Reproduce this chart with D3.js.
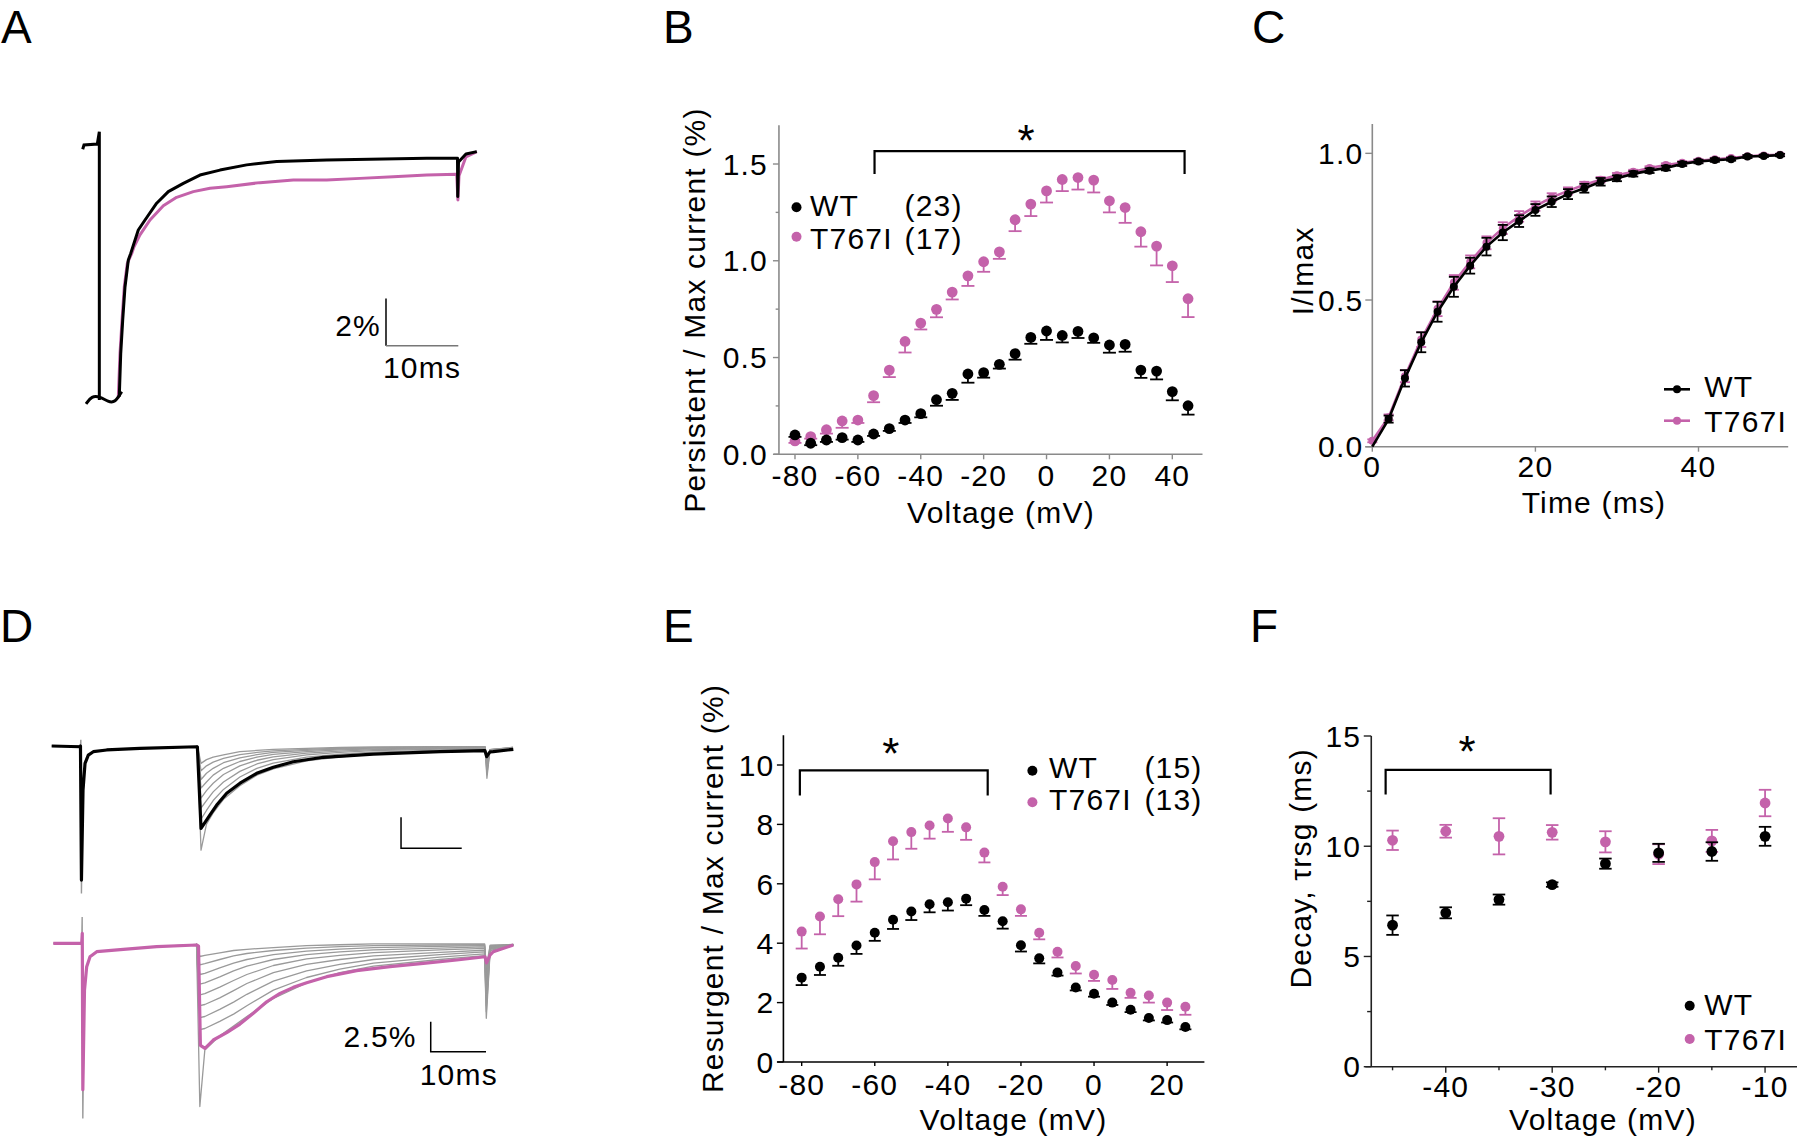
<!DOCTYPE html>
<html><head><meta charset="utf-8">
<script src="https://cdn.jsdelivr.net/npm/d3@7"></script>
<style>
body{margin:0;background:#fff}
text{font-family:"Liberation Sans",Arial,Helvetica,sans-serif;}
</style>
</head><body>
<svg id="fig" width="1798" height="1140"></svg>
<script>
// ---------------- DATA ----------------
// Panel B: persistent current
const vB = [-80,-75,-70,-65,-60,-55,-50,-45,-40,-35,-30,-25,-20,-15,-10,-5,0,5,10,15,20,25,30,35,40,45];
const wtB = [0.10,0.057,0.074,0.086,0.074,0.105,0.133,0.177,0.21,0.282,0.315,0.415,0.422,0.465,0.52,0.604,0.637,0.614,0.635,0.602,0.565,0.568,0.435,0.43,0.324,0.251];
const wtBerr = [0.01,0.01,0.01,0.01,0.01,0.01,0.012,0.015,0.019,0.031,0.034,0.045,0.026,0.022,0.031,0.033,0.046,0.036,0.034,0.026,0.040,0.038,0.040,0.043,0.045,0.046];
const muB = [0.069,0.091,0.127,0.172,0.177,0.303,0.435,0.583,0.678,0.749,0.838,0.922,0.995,1.046,1.212,1.293,1.361,1.42,1.43,1.417,1.31,1.275,1.15,1.076,0.974,0.804];
const muBerr = [0.01,0.01,0.02,0.035,0.015,0.034,0.036,0.057,0.033,0.041,0.038,0.052,0.052,0.036,0.059,0.062,0.060,0.060,0.062,0.064,0.060,0.079,0.077,0.10,0.084,0.095];
const bTicksX = [-80,-60,-40,-20,0,20,40];
const bTicksY = [0,0.5,1.0,1.5];
const bMinorY = [0.25,0.75,1.25];
const bLegend = [["WT","(23)"],["T767I","(17)"]];
const bBracket = [-54.7, 43.9, 1.567, 1.448];

// Panel C: recovery
const tC = [0,2,4,6,8,10,12,14,16,18,20,22,24,26,28,30,32,34,36,38,40,42,44,46,48,50];
const wtC = [0.01,0.094,0.233,0.356,0.46,0.545,0.617,0.682,0.73,0.769,0.807,0.835,0.861,0.881,0.903,0.915,0.93,0.941,0.95,0.964,0.972,0.977,0.98,0.989,0.991,0.994];
const wtCerr = [0.005,0.012,0.028,0.034,0.034,0.034,0.027,0.030,0.026,0.020,0.020,0.018,0.017,0.015,0.013,0.010,0.009,0.008,0.008,0.007,0.006,0.006,0.005,0.005,0.004,0.004];
const muC = [0.02,0.10,0.24,0.365,0.47,0.56,0.63,0.695,0.745,0.785,0.82,0.85,0.872,0.893,0.91,0.925,0.937,0.95,0.96,0.968,0.975,0.98,0.984,0.99,0.993,0.995];
const muCerr = [0.005,0.01,0.02,0.025,0.025,0.025,0.022,0.022,0.02,0.018,0.016,0.014,0.012,0.01,0.009,0.008,0.007,0.006,0.006,0.005,0.005,0.005,0.004,0.004,0.004,0.004];
const cTicksX = [0,20,40];
const cTicksY = [0,0.5,1.0];
const cLegend = ["WT","T767I"];

// Panel E: resurgent current
const vE = [-80,-75,-70,-65,-60,-55,-50,-45,-40,-35,-30,-25,-20,-15,-10,-5,0,5,10,15,20,25];
const wtE = [2.84,3.21,3.51,3.92,4.35,4.79,5.07,5.31,5.38,5.5,5.12,4.74,3.93,3.49,3.01,2.51,2.30,2.0,1.76,1.48,1.41,1.18];
const wtEerr = [0.25,0.28,0.27,0.28,0.27,0.31,0.29,0.27,0.28,0.22,0.2,0.25,0.21,0.17,0.1,0.1,0.1,0.08,0.08,0.08,0.08,0.08];
const muE = [4.39,4.9,5.48,5.98,6.73,7.43,7.74,7.96,8.2,7.9,7.05,5.9,5.14,4.35,3.71,3.23,2.94,2.76,2.33,2.24,2.0,1.86];
const muEerr = [0.57,0.6,0.57,0.58,0.58,0.61,0.56,0.44,0.45,0.42,0.33,0.28,0.22,0.22,0.19,0.25,0.21,0.3,0.17,0.24,0.25,0.27];
const eTicksX = [-80,-60,-40,-20,0,20];
const eTicksY = [0,2,4,6,8,10];
const eLegend = [["WT","(15)"],["T767I","(13)"]];
const eBracket = [-80.5, -29.1, 9.82, 8.97];

// Panel F: decay tau
const vF = [-45,-40,-35,-30,-25,-20,-15,-10];
const wtF = [6.42,6.98,7.58,8.26,9.21,9.70,9.76,10.45];
const wtFerr = [0.44,0.25,0.23,0.1,0.23,0.41,0.42,0.43];
const muF = [10.27,10.68,10.45,10.63,10.2,9.64,10.24,11.96];
const muFerr = [0.44,0.29,0.82,0.33,0.48,0.45,0.5,0.6];
const fTicksX = [-40,-30,-20,-10];
const fMinorX = [-45,-35,-25,-15];
const fTicksY = [0,5,10,15];
const fMinorY = [2.5,7.5,12.5];
const fLegend = ["WT","T767I"];
const fBracket = [-45.65, -30.15, 13.46, 12.35];

// Panel A traces [time ms, current %]
const aBlackPre = [[0,-0.18],[0.18,0],[2.02,0.04],[2.30,0.56],[2.30,-10.77]];
const aBreak = [[0.46,-10.94],[1.24,-10.6],[2.39,-10.63],[3.54,-10.85],[4.47,-10.89],[5.39,-10.42]];
const aBlack = [[5.06,-10.63],[5.26,-8.80],[5.53,-7.41],[5.85,-6.00],[6.31,-4.86],[6.64,-4.58],[7.69,-3.59],[8.62,-3.17],[10.23,-2.46],[11.84,-1.97],[13.92,-1.62],[16.22,-1.27],[18.99,-1.06],[22.68,-0.84],[26.83,-0.70],[33.75,-0.63],[47.58,-0.56],[51.73,-0.56],[51.84,-0.56],[51.87,-2.18],[51.98,-0.72],[53.01,-0.38],[54.51,-0.28]];
const aPink = [[4.92,-10.70],[5.16,-8.80],[5.44,-7.41],[5.75,-6.00],[6.17,-5.00],[6.78,-4.58],[7.09,-4.30],[7.92,-3.80],[9.31,-3.17],[11.15,-2.57],[12.99,-2.21],[15.30,-1.97],[17.61,-1.83],[19.92,-1.76],[24.52,-1.59],[29.13,-1.48],[33.75,-1.48],[38.35,-1.41],[42.96,-1.34],[47.58,-1.27],[51.73,-1.24],[51.90,-2.32],[52.05,-1.3],[53.01,-0.5],[54.51,-0.28]];
const aBar = [41.95, -6.48, -8.48, 51.95];

// Panel D top (WT) traces
const dtBlack = [[0,0],[4.66,-0.06],[4.74,0],[4.9,-10.81],[5.16,-3.55],[5.49,-1.40],[6.03,-0.73],[6.85,-0.46],[9.06,-0.32],[14.55,-0.19],[23.89,-0.06],[24.0,-0.08],[24.6,-6.64],[26.08,-5.56],[27.18,-4.76],[28.83,-3.81],[31.02,-3.0],[33.77,-2.2],[36.51,-1.72],[39.8,-1.27],[44.75,-0.91],[52.98,-0.65],[63.97,-0.46],[71.38,-0.38],[71.66,-0.86],[72.2,-0.48],[72.75,-0.46],[76.05,-0.27]];
const dtGrayPre = [[0,0],[4.74,0],[4.8,0.5],[4.9,-11.9],[5.1,-4],[5.5,-1.4],[6.0,-0.7],[7,-0.45],[9,-0.3],[14.5,-0.18],[23.9,-0.06]];
const dtGrayT = [24.0,24.6,25.5,26.6,28.3,31.0,33.8,36.5,42.0,47.5,53.0,64.0,71.4,71.7,72.2,76.0];
const dtGray = [
 [0,-1.4,-1.1,-0.9,-0.72,-0.46,-0.36,-0.27,-0.19,-0.12,-0.08,-0.05,-0.05,-2.6,-0.3,-0.1],
 [0,-2.0,-1.6,-1.3,-1.0,-0.7,-0.52,-0.4,-0.27,-0.18,-0.13,-0.08,-0.07,-2.3,-0.3,-0.12],
 [0,-2.7,-2.2,-1.8,-1.35,-0.95,-0.7,-0.52,-0.35,-0.24,-0.17,-0.11,-0.09,-2.0,-0.3,-0.13],
 [0,-3.4,-2.9,-2.35,-1.8,-1.25,-0.9,-0.68,-0.45,-0.32,-0.23,-0.15,-0.12,-1.8,-0.32,-0.15],
 [0,-4.2,-3.6,-3.0,-2.3,-1.6,-1.15,-0.88,-0.58,-0.42,-0.3,-0.2,-0.16,-1.6,-0.35,-0.17],
 [0,-5.0,-4.4,-3.7,-2.9,-2.05,-1.45,-1.1,-0.72,-0.52,-0.38,-0.26,-0.2,-1.4,-0.38,-0.2],
 [0,-5.9,-5.2,-4.4,-3.5,-2.5,-1.8,-1.38,-0.9,-0.65,-0.5,-0.33,-0.26,-1.2,-0.4,-0.22],
 [0,-8.4,-6.3,-5.4,-4.3,-3.2,-2.35,-1.85,-1.2,-0.88,-0.68,-0.5,-0.4,-1.0,-0.45,-0.25]
];
const dtBar = [57.55, -5.75, -8.25, 67.55];

// Panel D bottom (T767I) traces
const dbPink = [[0,0],[5.14,0],[5.24,0.83],[5.34,-12.2],[5.64,-3.9],[6.04,-1.95],[6.64,-1.12],[7.85,-0.7],[12.66,-0.5],[18.7,-0.28],[25.93,-0.14],[26.26,-0.23],[26.6,-8.5],[27.43,-8.75],[28.93,-8.06],[31.36,-7.45],[33.76,-6.73],[36.17,-5.83],[38.59,-4.87],[41.0,-4.17],[43.4,-3.67],[45.82,-3.28],[49.44,-2.78],[54.86,-2.28],[60.89,-1.95],[66.91,-1.67],[72.95,-1.39],[78.07,-1.12],[78.34,-1.64],[78.97,-0.98],[79.57,-0.7],[83.18,-0.14]];
const dbGrayPre = [[0,0],[5.14,0],[5.22,2.2],[5.34,-14.6],[5.6,-4],[6.0,-2],[6.6,-1.1],[7.9,-0.7],[12.7,-0.5],[18.7,-0.28],[25.9,-0.1]];
const dbGrayT = [25.9,26.5,27.4,30.1,32.6,35.0,39.8,45.8,51.8,57.9,69.9,78.0,78.3,79.0,83.2];
const dbGray = [
 [-0.1,-1.1,-1.0,-0.8,-0.6,-0.5,-0.36,-0.2,-0.12,-0.05,-0.05,-0.05,-2.0,-0.15,-0.1],
 [-0.1,-1.8,-1.7,-1.35,-1.05,-0.85,-0.6,-0.4,-0.28,-0.2,-0.14,-0.12,-2.5,-0.2,-0.1],
 [-0.1,-2.6,-2.5,-2.05,-1.65,-1.35,-0.95,-0.65,-0.48,-0.36,-0.26,-0.2,-3.0,-0.25,-0.12],
 [-0.1,-3.4,-3.3,-2.8,-2.3,-1.9,-1.35,-0.95,-0.72,-0.55,-0.4,-0.3,-3.5,-0.3,-0.12],
 [-0.1,-4.3,-4.2,-3.65,-3.1,-2.6,-1.85,-1.3,-1.0,-0.78,-0.55,-0.42,-4.0,-0.35,-0.13],
 [-0.1,-5.2,-5.1,-4.55,-3.95,-3.35,-2.45,-1.75,-1.35,-1.05,-0.75,-0.58,-4.6,-0.4,-0.14],
 [-0.1,-6.2,-6.1,-5.5,-4.9,-4.25,-3.15,-2.3,-1.75,-1.35,-0.95,-0.72,-5.2,-0.45,-0.15],
 [-0.1,-7.2,-7.1,-6.5,-5.9,-5.2,-3.9,-2.85,-2.15,-1.65,-1.15,-0.88,-5.7,-0.5,-0.15],
 [-0.1,-13.6,-8.9,-7.7,-6.9,-6.1,-4.6,-3.3,-2.45,-1.9,-1.35,-1.02,-6.25,-0.6,-0.15]
];
const dbBar = [68.25, -6.53, -9.03, 78.25];

// ---------------- DRAWING ----------------
const PINK = "#c462aa";
const GRAY_AX = "#8a8a8a";
const FS = 30, LS = "1.2px";
const svg = d3.select("#fig");

function T(g, x, y, s, o = {}) {
  return g.append("text").attr("x", x).attr("y", y).text(s)
    .attr("font-size", o.fs || FS).attr("text-anchor", o.anchor || "start")
    .attr("fill", o.fill || "#000").style("letter-spacing", o.ls || LS)
    .attr("transform", o.rot ? `rotate(-90,${x},${y})` : null);
}

function axes(g, x, y, o) {
  const y0 = y(0), yA = o.yAxisX;
  const c = o.color;
  g.append("line").attr("x1", x.range()[0]).attr("x2", x.range()[1]).attr("y1", y0).attr("y2", y0)
    .attr("stroke", c).attr("stroke-width", 1.6);
  g.append("line").attr("x1", yA).attr("x2", yA).attr("y1", y0).attr("y2", y.range()[1])
    .attr("stroke", c).attr("stroke-width", 1.6);
  o.xTicks.forEach(v => {
    g.append("line").attr("x1", x(v)).attr("x2", x(v)).attr("y1", y0).attr("y2", y0 + o.xTL).attr("stroke", c).attr("stroke-width", 1.4);
    T(g, x(v), y0 + o.xLab, o.xf(v), {anchor: "middle"});
  });
  (o.xMinor || []).forEach(v => {
    g.append("line").attr("x1", x(v)).attr("x2", x(v)).attr("y1", y0).attr("y2", y0 + o.xTL * 0.6).attr("stroke", c).attr("stroke-width", 1.4);
  });
  o.yTicks.forEach(v => {
    g.append("line").attr("x1", yA - o.yTL).attr("x2", yA).attr("y1", y(v)).attr("y2", y(v)).attr("stroke", c).attr("stroke-width", 1.4);
    T(g, yA - o.yLab, y(v) + 10.7, o.yf(v), {anchor: "end"});
  });
  (o.yMinor || []).forEach(v => {
    g.append("line").attr("x1", yA - o.yTL * 0.55).attr("x2", yA).attr("y1", y(v)).attr("y2", y(v)).attr("stroke", c).attr("stroke-width", 1.4);
  });
}

function errDown(g, x, y, xs, vals, errs, col, w) {
  xs.forEach((v, i) => {
    const yb = y(vals[i] - errs[i]);
    g.append("line").attr("x1", x(v)).attr("x2", x(v)).attr("y1", y(vals[i])).attr("y2", yb).attr("stroke", col).attr("stroke-width", 1.8);
    g.append("line").attr("x1", x(v) - w/2).attr("x2", x(v) + w/2).attr("y1", yb).attr("y2", yb).attr("stroke", col).attr("stroke-width", 1.8);
  });
}
function errBoth(g, x, y, xs, vals, errs, col, w) {
  xs.forEach((v, i) => {
    const ya = y(vals[i] + errs[i]), yb = y(vals[i] - errs[i]);
    g.append("line").attr("x1", x(v)).attr("x2", x(v)).attr("y1", ya).attr("y2", yb).attr("stroke", col).attr("stroke-width", 1.8);
    [ya, yb].forEach(yy => g.append("line").attr("x1", x(v) - w/2).attr("x2", x(v) + w/2).attr("y1", yy).attr("y2", yy).attr("stroke", col).attr("stroke-width", 1.8));
  });
}
function dots(g, x, y, xs, vals, col, r) {
  g.selectAll(null).data(xs).enter().append("circle")
    .attr("cx", d => x(d)).attr("cy", (d, i) => y(vals[i])).attr("r", r).attr("fill", col);
}
function bracket(g, x, y, b, starX, starY) {
  const [a, c, top, leg] = b;
  g.append("path").attr("d", `M${x(a)},${y(leg)}V${y(top)}H${x(c)}V${y(leg)}`)
    .attr("fill", "none").attr("stroke", "#000").attr("stroke-width", 2.2);
  T(g, x(starX), y(starY) + 17, "*", {anchor: "middle", fs: 44, ls: "0px"});
}

// Panel letters
[["A",1,43],["B",663,43],["C",1252,43],["D",0,642],["E",663,642],["F",1250,642]].forEach(([s,x,y]) =>
  T(svg, x, y, s, {fs: 46, ls: "0px"}));

// ---- Panel B ----
{
  const g = svg.append("g");
  const x = d3.scaleLinear().domain([-86.8, 49.6]).range([773.6, 1202.5]);
  const y = d3.scaleLinear().domain([0, 1.70]).range([454.3, 125.3]);
  axes(g, x, y, {yAxisX: x(-85.1), color: GRAY_AX, xTicks: bTicksX, xTL: 5, xLab: 32, xf: d => String(d),
    yTicks: bTicksY, yMinor: bMinorY, yTL: 6, yLab: 11, yf: d => d.toFixed(1)});
  errDown(g, x, y, vB, muB, muBerr, PINK, 13);
  dots(g, x, y, vB, muB, PINK, 5.4);
  errDown(g, x, y, vB, wtB, wtBerr, "#000", 13);
  dots(g, x, y, vB, wtB, "#000", 5.4);
  bracket(g, x, y, bBracket, -6.5, 1.63);
  [[207.3, "#000", 216], [236.7, PINK, 248.7]].forEach(([cy, col, base], i) => {
    g.append("circle").attr("cx", 796.5).attr("cy", cy).attr("r", 5).attr("fill", col);
    T(g, 810, base, bLegend[i][0]);
    T(g, 904.5, base, bLegend[i][1]);
  });
  T(g, 704.5, 310, "Persistent / Max current (%)", {anchor: "middle", rot: true});
  T(g, 1001, 523.3, "Voltage (mV)", {anchor: "middle"});
}

// ---- Panel C ----
{
  const g = svg.append("g");
  const x = d3.scaleLinear().domain([-0.86, 51.0]).range([1365.3, 1788.2]);
  const y = d3.scaleLinear().domain([0, 1.1]).range([446.7, 124]);
  axes(g, x, y, {yAxisX: x(0), color: GRAY_AX, xTicks: cTicksX, xTL: 5, xLab: 30, xf: d => String(d),
    yTicks: cTicksY, yTL: 7, yLab: 9, yf: d => d.toFixed(1)});
  const line = d3.line().x(d => x(d[0])).y(d => y(d[1]));
  g.append("path").attr("d", line(tC.map((t, i) => [t, muC[i]]))).attr("fill", "none").attr("stroke", PINK).attr("stroke-width", 2.6);
  errBoth(g, x, y, tC, muC, muCerr, PINK, 10);
  dots(g, x, y, tC, muC, PINK, 4);
  g.append("path").attr("d", line([[0, 0]].concat(tC.slice(1).map((t, i) => [t, wtC[i + 1]])))).attr("fill", "none").attr("stroke", "#000").attr("stroke-width", 2.6);
  errBoth(g, x, y, tC.slice(1), wtC.slice(1), wtCerr.slice(1), "#000", 10);
  dots(g, x, y, tC.slice(1), wtC.slice(1), "#000", 4);
  [[389.3, "#000", 396.7], [420.7, PINK, 431.7]].forEach(([cy, col, base], i) => {
    g.append("line").attr("x1", 1664).attr("x2", 1690).attr("y1", cy).attr("y2", cy).attr("stroke", col).attr("stroke-width", 2.6);
    g.append("circle").attr("cx", 1677).attr("cy", cy).attr("r", 4).attr("fill", col);
    T(g, 1704.3, base, cLegend[i]);
  });
  T(g, 1313, 270.8, "I/Imax", {anchor: "middle", rot: true});
  T(g, 1594, 513.3, "Time (ms)", {anchor: "middle"});
}

// ---- Panel E ----
{
  const g = svg.append("g");
  const x = d3.scaleLinear().domain([-86.7, 30.2]).range([777.2, 1204.4]);
  const y = d3.scaleLinear().domain([0, 11]).range([1062, 735.3]);
  axes(g, x, y, {yAxisX: x(-85), color: "#000", xTicks: eTicksX, xTL: 4, xLab: 33, xf: d => String(d),
    yTicks: eTicksY, yTL: 6.5, yLab: 9, yf: d => String(d)});
  errDown(g, x, y, vE, muE, muEerr, PINK, 12);
  dots(g, x, y, vE, muE, PINK, 5);
  errDown(g, x, y, vE, wtE, wtEerr, "#000", 12);
  dots(g, x, y, vE, wtE, "#000", 5);
  bracket(g, x, y, eBracket, -55.6, 10.45);
  [[770.7, "#000", 778.3], [802.3, PINK, 810]].forEach(([cy, col, base], i) => {
    g.append("circle").attr("cx", 1032.4).attr("cy", cy).attr("r", 5).attr("fill", col);
    T(g, 1049, base, eLegend[i][0]);
    T(g, 1144.4, base, eLegend[i][1]);
  });
  T(g, 722.7, 888.5, "Resurgent / Max current (%)", {anchor: "middle", rot: true});
  T(g, 1013.5, 1130, "Voltage (mV)", {anchor: "middle"});
}

// ---- Panel F ----
{
  const g = svg.append("g");
  const x = d3.scaleLinear().domain([-47.56, -7]).range([1365.3, 1797]);
  const y = d3.scaleLinear().domain([0, 15]).range([1066.7, 736]);
  axes(g, x, y, {yAxisX: x(-47), color: "#222", xTicks: fTicksX, xMinor: fMinorX, xTL: 6, xLab: 30, xf: d => String(d),
    yTicks: fTicksY, yMinor: fMinorY, yTL: 7.5, yLab: 10, yf: d => String(d)});
  errBoth(g, x, y, vF, muF, muFerr, PINK, 12.5);
  dots(g, x, y, vF, muF, PINK, 5.4);
  errBoth(g, x, y, vF, wtF, wtFerr, "#000", 12.5);
  dots(g, x, y, vF, wtF, "#000", 5.4);
  bracket(g, x, y, fBracket, -38.0, 14.36);
  [[1005.7, "#000", 1015], [1039, PINK, 1050]].forEach(([cy, col, base], i) => {
    g.append("circle").attr("cx", 1689.7).attr("cy", cy).attr("r", 5).attr("fill", col);
    T(g, 1704.3, base, fLegend[i]);
  });
  T(g, 1311, 868.3, "Decay, τrsg (ms)", {anchor: "middle", rot: true});
  T(g, 1603, 1130, "Voltage (mV)", {anchor: "middle"});
}

// ---- Panel A traces ----
{
  const g = svg.append("g");
  const x = d3.scaleLinear().domain([0, 10]).range([82.7, 155]);
  const y = d3.scaleLinear().domain([0, -1]).range([145, 168.67]);
  const line = d3.line().x(d => x(d[0])).y(d => y(d[1]));
  g.append("path").attr("d", line(aPink)).attr("fill", "none").attr("stroke", PINK).attr("stroke-width", 3).attr("stroke-linejoin", "round");
  g.append("path").attr("d", line(aBlackPre)).attr("fill", "none").attr("stroke", "#000").attr("stroke-width", 3);
  g.append("path").attr("d", line(aBlack)).attr("fill", "none").attr("stroke", "#000").attr("stroke-width", 3).attr("stroke-linejoin", "round");
  g.append("path").attr("d", d3.line().x(d => x(d[0])).y(d => y(d[1])).curve(d3.curveBasis)(aBreak))
    .attr("fill", "none").attr("stroke", "#000").attr("stroke-width", 3);
  const [bt, bi0, bi1, bt2] = aBar;
  g.append("line").attr("x1", x(bt)).attr("x2", x(bt)).attr("y1", y(bi0)).attr("y2", y(bi1)).attr("stroke", "#000").attr("stroke-width", 1.5);
  g.append("line").attr("x1", x(bt)).attr("x2", x(bt2)).attr("y1", y(bi1)).attr("y2", y(bi1)).attr("stroke", "#777").attr("stroke-width", 1.5);
  T(g, x(bt) - 5, 335.7, "2%", {anchor: "end"});
  T(g, x(bt) - 3, 378.3, "10ms");
}

// ---- Panel D traces ----
function traceSet(g, x, y, pre, tArr, grays, main, col, bar, lab) {
  const line = d3.line().x(d => x(d[0])).y(d => y(d[1]));
  g.append("path").attr("d", line(pre)).attr("fill", "none").attr("stroke", "#999").attr("stroke-width", 1.4);
  grays.forEach(arr => {
    g.append("path").attr("d", line([[tArr[0] - 0.1, pre[pre.length - 1][1]]].concat(tArr.map((t, i) => [t, arr[i]]))))
      .attr("fill", "none").attr("stroke", "#9a9a9a").attr("stroke-width", 1.3).attr("stroke-linejoin", "round");
  });
  g.append("path").attr("d", line(main)).attr("fill", "none").attr("stroke", col).attr("stroke-width", 3.2).attr("stroke-linejoin", "round");
  const [bt, bi0, bi1, bt2] = bar;
  g.append("path").attr("d", `M${x(bt)},${y(bi0)}V${y(bi1)}H${x(bt2)}`).attr("fill", "none").attr("stroke", "#000").attr("stroke-width", 1.5);
  if (lab) {
    T(g, x(bt) - 14, 1046.7, "2.5%", {anchor: "end"});
    T(g, x(bt) - 11, 1085, "10ms");
  }
}
{
  const g = svg.append("g");
  const x = d3.scaleLinear().domain([0, 10]).range([51.7, 112.4]);
  const y = d3.scaleLinear().domain([0, -1]).range([746, 758.4]);
  traceSet(g, x, y, dtGrayPre, dtGrayT, dtGray, dtBlack, "#000", dtBar, false);
}
{
  const g = svg.append("g");
  const x = d3.scaleLinear().domain([0, 10]).range([53.3, 108.6]);
  const y = d3.scaleLinear().domain([0, -1]).range([943.3, 955.3]);
  traceSet(g, x, y, dbGrayPre, dbGrayT, dbGray, dbPink, PINK, dbBar, true);
}
</script>
</body></html>
